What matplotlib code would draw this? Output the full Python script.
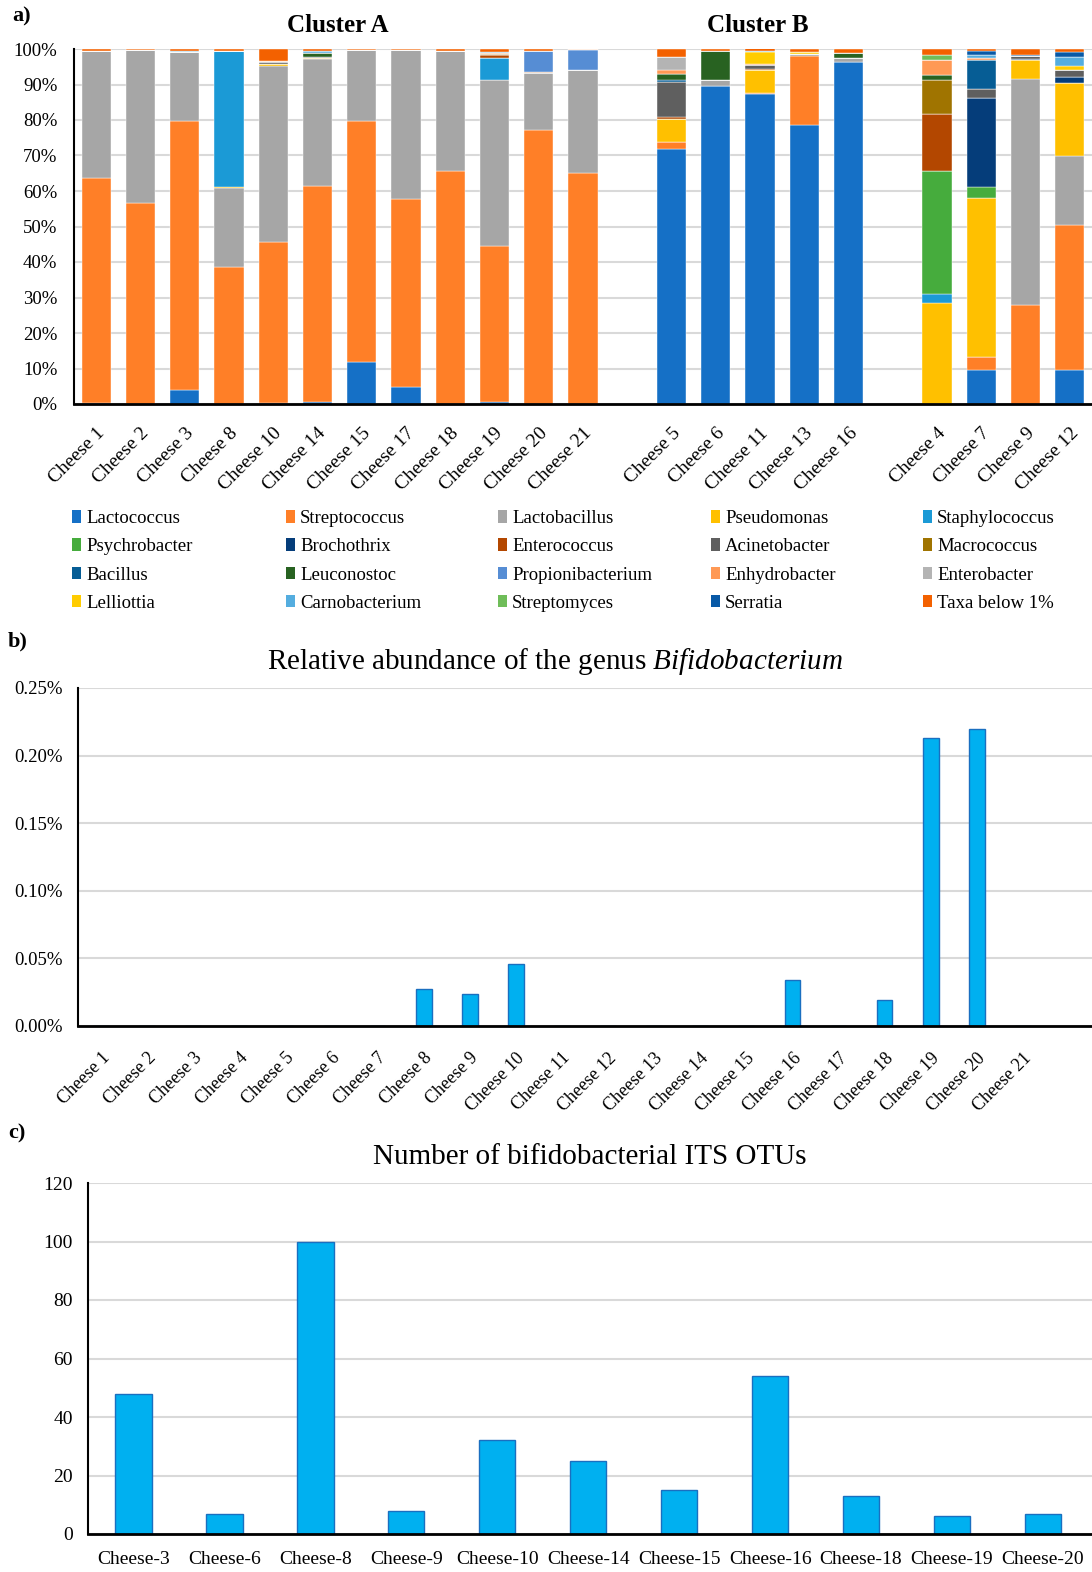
import numpy as np
import matplotlib
matplotlib.use("Agg")
import matplotlib.pyplot as plt
from matplotlib.patches import Patch
from matplotlib.ticker import FuncFormatter

plt.rcParams['font.family'] = ['Liberation Serif', 'DejaVu Serif']
plt.rcParams['mathtext.fontset'] = 'custom'
plt.rcParams['mathtext.rm'] = 'Liberation Serif'
plt.rcParams['mathtext.it'] = 'Liberation Serif:italic'

# ---- panel a data (percent), display order of cheeses
cheeses_a = ['Cheese 1', 'Cheese 2', 'Cheese 3', 'Cheese 8', 'Cheese 10', 'Cheese 14',
             'Cheese 15', 'Cheese 17', 'Cheese 18', 'Cheese 19', 'Cheese 20', 'Cheese 21',
             'Cheese 5', 'Cheese 6', 'Cheese 11', 'Cheese 13', 'Cheese 16',
             'Cheese 4', 'Cheese 7', 'Cheese 9', 'Cheese 12']
group_sizes = [12, 5, 4]

genera = ['Lactococcus', 'Streptococcus', 'Lactobacillus', 'Pseudomonas', 'Staphylococcus',
          'Psychrobacter', 'Brochothrix', 'Enterococcus', 'Acinetobacter', 'Macrococcus',
          'Bacillus', 'Leuconostoc', 'Propionibacterium', 'Enhydrobacter', 'Enterobacter',
          'Lelliottia', 'Carnobacterium', 'Streptomyces', 'Serratia', 'Taxa below 1%']
colors = ['#1570c6', '#ff7f27', '#a6a6a6', '#ffc000', '#1b9ad6',
          '#46ac3d', '#053d7a', '#b34700', '#5f5f5f', '#a07400',
          '#065d95', '#286221', '#568dd4', '#ff9955', '#b4b4b4',
          '#ffcc00', '#54addf', '#6fbd59', '#0859a6', '#f36100']

lactococcus    = [0.4, 0, 3.9, 0, 0.4, 0.7, 11.8, 4.7, 0, 0.7, 0, 0, 71.7, 89.7, 87.2, 78.7, 96.2, 0, 9.6, 0, 9.6]
streptococcus  = [63.4, 56.7, 75.9, 38.7, 45.3, 60.6, 68.0, 53.0, 65.7, 43.9, 77.1, 65.1, 2.0, 0, 0.4, 19.4, 0, 0, 3.5, 28.0, 40.9]
lactobacillus  = [35.5, 43.1, 19.3, 22.1, 49.6, 35.9, 19.9, 42.0, 33.6, 46.8, 16.1, 29.0, 0, 1.5, 0, 0.5, 1.4, 0, 0, 63.5, 19.4]
pseudomonas    = [0, 0, 0, 0.3, 0.6, 0.3, 0, 0, 0, 0, 0, 0, 6.7, 0, 6.5, 0, 0, 28.4, 44.9, 5.3, 20.5]
staphylococcus = [0, 0, 0, 38.2, 0, 0, 0, 0, 0, 6.1, 0, 0, 0, 0, 0, 0, 0, 2.7, 0, 0, 0]
psychrobacter  = [0, 0, 0, 0, 0, 0, 0, 0, 0, 0, 0, 0, 0, 0, 0, 0, 0, 34.6, 3.1, 0, 0]
brochothrix    = [0, 0, 0, 0, 0, 0, 0, 0, 0, 0, 0, 0, 0, 0, 0, 0, 0, 0, 25.2, 0.4, 1.7]
enterococcus   = [0, 0, 0, 0, 0, 0, 0, 0, 0, 0.7, 0.4, 0, 0.4, 0, 0.3, 0, 0, 16.1, 0, 0, 0]
acinetobacter  = [0, 0, 0, 0, 0.3, 0.3, 0, 0, 0, 0, 0, 0, 9.9, 0, 1.2, 0, 0, 0, 2.3, 0.8, 1.9]
macrococcus    = [0, 0, 0, 0, 0, 0, 0, 0, 0, 0.3, 0, 0, 0, 0, 0, 0, 0, 9.5, 0, 0, 0]
bacillus       = [0, 0, 0, 0, 0.2, 0, 0, 0, 0, 0, 0, 0, 0.5, 0, 0, 0, 0, 0, 8.4, 0, 0]
leuconostoc    = [0, 0, 0, 0, 0, 1.0, 0, 0, 0, 0, 0, 0, 1.7, 8.1, 0, 0, 1.3, 1.3, 0, 0, 0]
propioni       = [0, 0, 0, 0, 0, 0, 0, 0, 0, 0, 5.7, 5.6, 0, 0, 0, 0, 0, 0, 0, 0, 0]
enhydrobacter  = [0, 0, 0, 0, 0.3, 0, 0, 0, 0, 0.3, 0, 0.3, 1.3, 0, 0.2, 0, 0, 4.2, 0.4, 0, 0]
enterobacter   = [0, 0, 0, 0, 0, 0, 0, 0, 0, 0, 0, 0, 3.6, 0, 0, 0, 0, 0, 0, 0, 0]
lelliottia     = [0, 0, 0, 0, 0, 0, 0, 0, 0, 0, 0, 0, 0, 0, 3.3, 0.5, 0, 0, 0, 0, 1.1]
carnobacterium = [0, 0, 0.2, 0, 0, 0.5, 0, 0, 0, 0.3, 0, 0, 0, 0, 0.2, 0, 0, 0, 1.0, 0, 2.7]
streptomyces   = [0, 0, 0, 0, 0, 0, 0, 0, 0, 0, 0, 0, 0, 0, 0, 0, 0, 1.6, 0, 0, 0]
serratia       = [0, 0, 0, 0, 0, 0, 0, 0, 0, 0, 0, 0, 0, 0, 0, 0, 0, 0, 1.1, 0.4, 1.3]
taxa_below     = [0.7, 0.2, 0.7, 0.7, 3.3, 0.7, 0.3, 0.3, 0.7, 0.9, 0.7, 0, 2.2, 0.7, 0.9, 0.9, 1.1, 1.6, 0.5, 1.6, 0.9]

series_a = [lactococcus, streptococcus, lactobacillus, pseudomonas, staphylococcus,
            psychrobacter, brochothrix, enterococcus, acinetobacter, macrococcus,
            bacillus, leuconostoc, propioni, enhydrobacter, enterobacter,
            lelliottia, carnobacterium, streptomyces, serratia, taxa_below]

# ---- panel b data (percent)
cheeses_b = ['Cheese %d' % i for i in range(1, 22)]
bifido = [0, 0, 0, 0, 0, 0, 0, 0.0276, 0.024, 0.0456, 0, 0, 0, 0, 0, 0.0337, 0, 0.0196, 0.213, 0.2196, 0]

# ---- panel c data
cheeses_c = ['Cheese-3', 'Cheese-6', 'Cheese-8', 'Cheese-9', 'Cheese-10', 'Cheese-14',
             'Cheese-15', 'Cheese-16', 'Cheese-18', 'Cheese-19', 'Cheese-20']
otus = [48, 7, 100, 8, 32, 25, 15, 54, 13, 6, 7]

W, H = 1092, 1572
fig = plt.figure(figsize=(W / 100, H / 100), dpi=100)
grid_c = '#d9d9d9'


def style_axes(ax):
    for s in ['top', 'right']:
        ax.spines[s].set_visible(False)
    ax.spines['bottom'].set_linewidth(2)
    ax.spines['left'].set_linewidth(1.5)
    ax.spines['bottom'].set_zorder(5)
    ax.yaxis.grid(True, color=grid_c, lw=1.5)
    ax.set_axisbelow(True)
    ax.tick_params(length=0)


# ---------------- panel a
axa = fig.add_axes([74 / W, 1 - 404 / H, 1 - 74 / W, 355 / H])
pos = []
start = 0
for n in group_sizes:
    pos += list(range(start, start + n))
    start += n + 1
pos = np.array(pos)
bottom = np.zeros(len(pos))
for vals, col, name in zip(series_a, colors, genera):
    vals = np.array(vals)
    axa.bar(pos, vals, 0.66, bottom=bottom, color=col, edgecolor='white', linewidth=0.3, label=name)
    bottom += vals
style_axes(axa)
axa.set_ylim(0, 100)
axa.set_xlim(-0.5, 22.5)
axa.set_yticks(np.arange(0, 101, 10))
axa.yaxis.set_major_formatter(FuncFormatter(lambda v, p: '%d%%' % v))
axa.tick_params(axis='y', labelsize=13.5, pad=12)
axa.set_xticks(pos)
axa.set_xticklabels(cheeses_a, rotation=45, ha='right', rotation_mode='anchor', fontsize=14)
axa.tick_params(axis='x', pad=15)
fig.text(338 / W, 1 - 26 / H, 'Cluster A', ha='center', va='center', fontsize=18, fontweight='bold')
fig.text(758 / W, 1 - 26 / H, 'Cluster B', ha='center', va='center', fontsize=18, fontweight='bold')
fig.text(12 / W, 1 - 16 / H, 'a)', ha='left', va='center', fontsize=16, fontweight='bold')

# legend: five fixed-width columns, filled row by row
col_x = [72, 286, 498, 711, 923]
for c in range(5):
    idx = [r * 5 + c for r in range(4)]
    fig.legend([Patch(facecolor=colors[i], edgecolor='none') for i in idx],
               [genera[i] for i in idx], loc='upper left',
               bbox_to_anchor=(col_x[c] / W, 1 - 510 / H), frameon=False,
               fontsize=13.5, handlelength=0.5, handleheight=0.65, handletextpad=0.25,
               labelspacing=0.6, borderaxespad=0, borderpad=0)

# ---------------- panel b
axb = fig.add_axes([78 / W, 1 - 1026 / H, 1 - 78 / W, 338 / H])
xb = np.arange(len(cheeses_b))
axb.bar(xb, bifido, 0.34, color='#00b0f0', edgecolor='#1a6fc0', linewidth=1)
style_axes(axb)
axb.set_ylim(0, 0.25)
axb.set_xlim(-0.5, 21.5)
axb.set_yticks(np.arange(0, 0.2501, 0.05))
axb.yaxis.set_major_formatter(FuncFormatter(lambda v, p: '%.2f%%' % v))
axb.tick_params(axis='y', labelsize=13.5, pad=11)
axb.set_xticks(xb)
axb.set_xticklabels(cheeses_b, rotation=45, ha='right', rotation_mode='anchor', fontsize=13)
axb.tick_params(axis='x', pad=17)
axb.set_title('Relative abundance of the genus $\\it{Bifidobacterium}$', fontsize=21, pad=14, x=0.47)
fig.text(8 / W, 1 - 641 / H, 'b)', ha='left', va='center', fontsize=16, fontweight='bold')

# ---------------- panel c
axc = fig.add_axes([88 / W, 1 - 1534 / H, 1 - 88 / W, 351 / H])
xc = np.arange(len(cheeses_c))
axc.bar(xc, otus, 0.4, color='#00b0f0', edgecolor='#1a6fc0', linewidth=1)
style_axes(axc)
axc.set_ylim(0, 120)
axc.set_xlim(-0.5, 10.54)
axc.set_yticks(np.arange(0, 121, 20))
axc.tick_params(axis='y', labelsize=14, pad=11)
axc.set_xticks(xc)
axc.set_xticklabels(cheeses_c, fontsize=14)
axc.tick_params(axis='x', pad=12)
axc.set_title('Number of bifidobacterial ITS OTUs', fontsize=21, pad=14)
fig.text(8 / W, 1 - 1133 / H, 'c)', ha='left', va='center', fontsize=16, fontweight='bold')

fig.savefig('out.png', dpi=100)
